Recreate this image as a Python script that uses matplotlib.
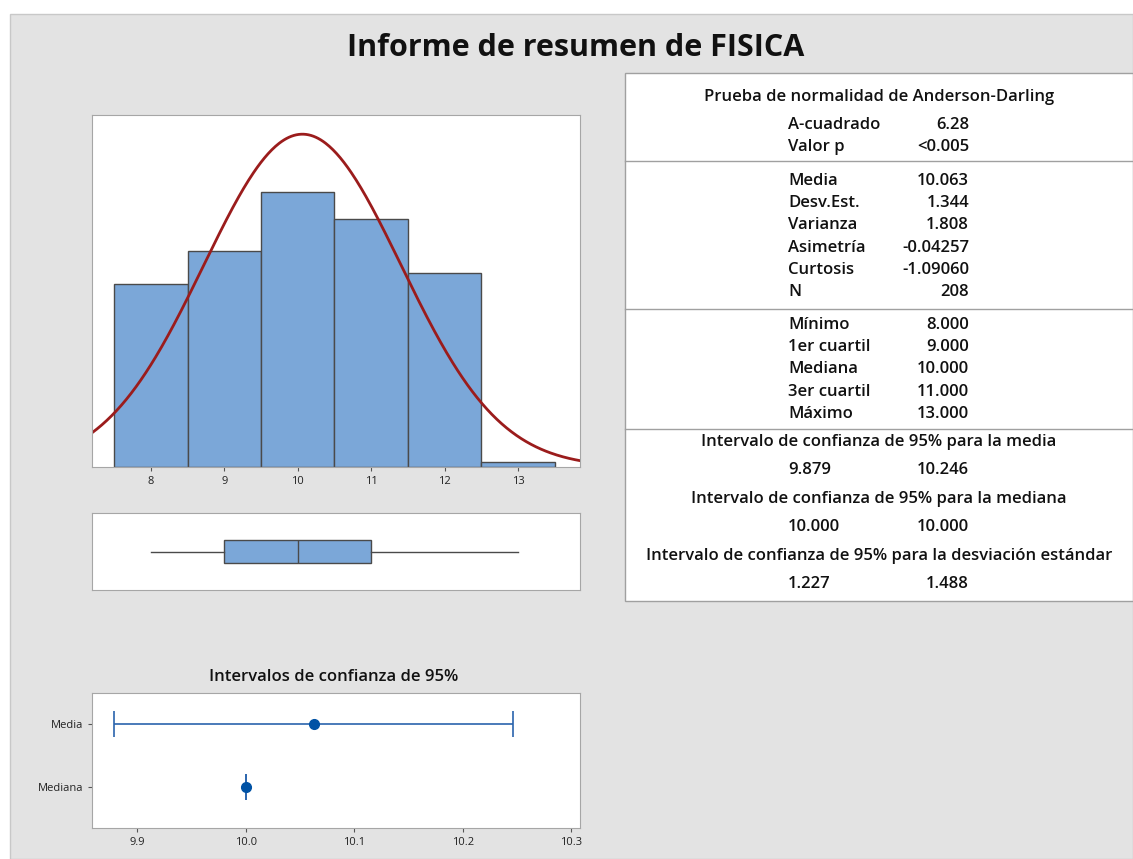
import numpy as np
import matplotlib
matplotlib.use('Agg')
import matplotlib.pyplot as plt
from matplotlib.patches import Rectangle

plt.rcParams['font.family'] = ['Open Sans', 'DejaVu Sans']

bin_centers = [8, 9, 10, 11, 12, 13]
bin_counts = [34, 40, 51, 46, 36, 1]
mean_val = 10.063
std_val = 1.344
n_obs = 208
box_stats = {'whislo': 8.0, 'q1': 9.0, 'med': 10.0, 'q3': 11.0, 'whishi': 13.0}
ci_labels = ['Mediana', 'Media']
ci_centers = [10.000, 10.063]
ci_low = [10.000, 9.879]
ci_high = [10.000, 10.246]

ad_rows = [('A-cuadrado', '6.28'), ('Valor p', '<0.005')]
moment_rows = [('Media', '10.063'), ('Desv.Est.', '1.344'), ('Varianza', '1.808'),
               ('Asimetría', '-0.04257'), ('Curtosis', '-1.09060'), ('N', '208')]
quant_rows = [('Mínimo', '8.000'), ('1er cuartil', '9.000'), ('Mediana', '10.000'),
              ('3er cuartil', '11.000'), ('Máximo', '13.000')]
ci_rows = [('Intervalo de confianza de 95% para la media', '9.879', '10.246'),
           ('Intervalo de confianza de 95% para la mediana', '10.000', '10.000'),
           ('Intervalo de confianza de 95% para la desviación estándar', '1.227', '1.488')]

W, H = 1133, 859
fig = plt.figure(figsize=(W / 100, H / 100), dpi=100)
fig.patch.set_facecolor('white')


def px_axes(left, top, right, bottom, **kw):
    return fig.add_axes([left / W, 1 - bottom / H, (right - left) / W, (bottom - top) / H], **kw)


# overlay in pixel coordinates for background, title and the stats table
bg = px_axes(0, 0, W, H)
bg.set_xlim(0, W)
bg.set_ylim(H, 0)
bg.axis('off')
bg.add_patch(Rectangle((10, 14), W - 10, H - 14, facecolor='#e3e3e3', edgecolor='#c8c8c8', lw=1))
bg.text(576, 48, 'Informe de resumen de FISICA', ha='center', va='center',
        fontsize=22, fontweight='bold', color='#111111')
bg.add_patch(Rectangle((625, 73), W - 625, 528, facecolor='white', edgecolor='#a0a0a0', lw=1))
for yl in [161, 309, 429]:
    bg.plot([625, W], [yl, yl], color='#a0a0a0', lw=1)

tkw = dict(fontsize=12, color='#111111', va='center', fontweight='semibold')
bg.text(879, 97, 'Prueba de normalidad de Anderson-Darling', ha='center', **tkw)
lab_x, val_x = 788, 969
for rows, y0 in [(ad_rows, 125), (moment_rows, 181), (quant_rows, 325)]:
    for i, (lab, val) in enumerate(rows):
        y = y0 + i * 22.2
        bg.text(lab_x, y, lab, ha='left', **tkw)
        bg.text(val_x, y, val, ha='right', **tkw)
for i, (title, lo, hi) in enumerate(ci_rows):
    y = 442 + i * 57
    bg.text(879, y, title, ha='center', **tkw)
    bg.text(lab_x, y + 28, lo, ha='left', **tkw)
    bg.text(val_x, y + 28, hi, ha='right', **tkw)

bg.text(334, 677, 'Intervalos de confianza de 95%', ha='center', va='center',
        fontsize=12, fontweight='semibold', color='#111111')

bar_color = '#7ba7d8'
edge_color = '#4a4a4a'
spine_color = '#a6a6a6'
xmin, xmax = 7.196, 13.845


def style(ax):
    ax.set_facecolor('white')
    for s in ax.spines.values():
        s.set_color(spine_color)
    ax.tick_params(colors='#555555', labelcolor='#222222', labelsize=8, length=3)


# histogram with fitted normal curve
ax1 = px_axes(92, 115, 580, 467)
style(ax1)
ax1.bar(bin_centers, bin_counts, width=1.0, color=bar_color, edgecolor=edge_color, lw=1)
xs = np.linspace(xmin, xmax, 400)
ys = n_obs * 1.0 * np.exp(-0.5 * ((xs - mean_val) / std_val) ** 2) / (std_val * np.sqrt(2 * np.pi))
ax1.plot(xs, ys, color='#9b1c1c', lw=2)
ax1.set_xlim(xmin, xmax)
ax1.set_ylim(0, 65.3)
ax1.set_xticks(bin_centers)
ax1.set_yticks([])

# boxplot
ax2 = px_axes(92, 513, 580, 590)
style(ax2)
ax2.bxp([dict(box_stats, fliers=[])], vert=False, widths=0.31, patch_artist=True,
        showcaps=False,
        boxprops=dict(facecolor=bar_color, edgecolor=edge_color, lw=1),
        medianprops=dict(color=edge_color, lw=1),
        whiskerprops=dict(color=edge_color, lw=1))
ax2.set_xlim(xmin, xmax)
ax2.set_ylim(0.5, 1.5)
ax2.set_xticks([])
ax2.set_yticks([])

# confidence intervals
ax3 = px_axes(92, 693, 580, 828)
style(ax3)
ypos = [1, 2]
ci_c = np.array(ci_centers)
err = [ci_c - np.array(ci_low), np.array(ci_high) - ci_c]
ax3.errorbar(ci_centers, ypos, xerr=err, fmt='none', ecolor='#2a64ad', elinewidth=1.2,
             capsize=9.7, capthick=1.2)
ax3.plot(ci_centers, ypos, 'o', color='#0052a5', markersize=7)
ax3.set_xlim(9.8585, 10.308)
ax3.set_ylim(0.349, 2.492)
ax3.set_xticks([9.9, 10.0, 10.1, 10.2, 10.3])
ax3.set_xticklabels(['9.9', '10.0', '10.1', '10.2', '10.3'])
ax3.set_yticks(ypos)
ax3.set_yticklabels(ci_labels)

fig.savefig('out.png', dpi=100, facecolor=fig.get_facecolor())
